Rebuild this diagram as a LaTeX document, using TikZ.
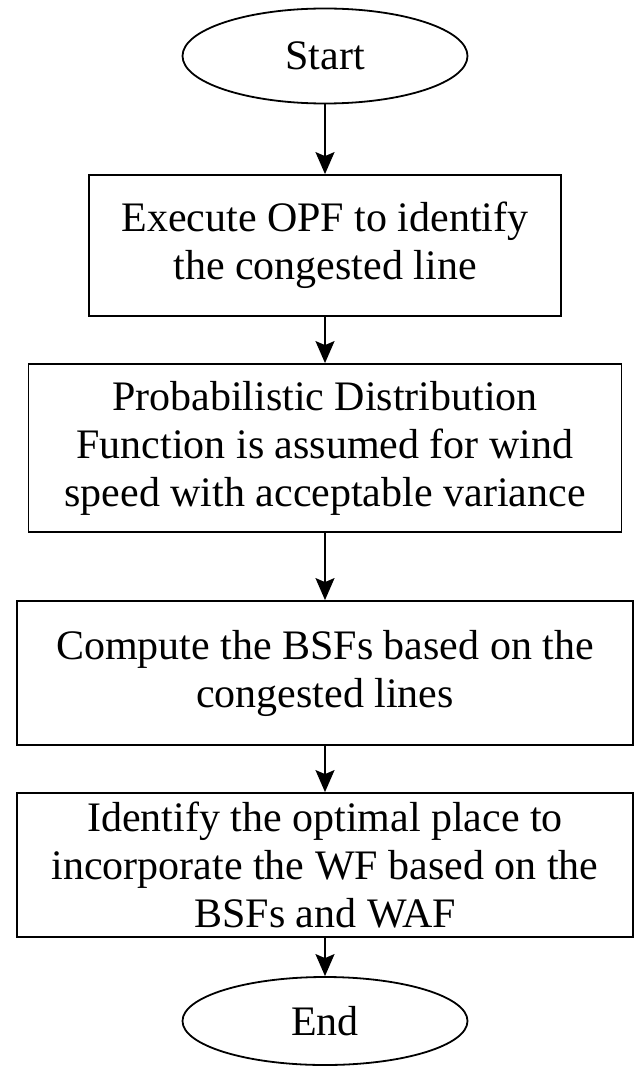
\documentclass[tikz,border=0pt]{standalone}
\usepackage{fontspec}
\setmainfont{Liberation Serif}
\usetikzlibrary{shapes.geometric, arrows.meta}

\begin{document}
\begin{tikzpicture}[x=1pt, y=-1pt, line width=1.8pt,
    every node/.style={font=\fontsize{42}{48}\selectfont},
    term/.style={draw, ellipse, minimum width=285pt, minimum height=95pt, inner sep=0pt},
    proc/.style={draw, rectangle, align=center, inner sep=0pt},
    flow/.style={-{Stealth[length=22pt, width=19pt, inset=4pt]}}]

    \useasboundingbox (0,0) rectangle (634,1067);

    \node[term] (start) at (325,56) {Start};
    \node[proc, minimum width=472pt, minimum height=141pt] (opf) at (325,245.5)
        {Execute OPF to identify\\the congested line};
    \node[proc, minimum width=593pt, minimum height=168pt] (pdf) at (325,448)
        {Probabilistic Distribution\\Function is assumed for wind\\speed with acceptable variance};
    \node[proc, minimum width=616pt, minimum height=144pt] (bsf) at (325,673)
        {Compute the BSFs based on the\\congested lines};
    \node[proc, minimum width=616pt, minimum height=144pt] (place) at (325,865)
        {Identify the optimal place to\\incorporate the WF based on the\\BSFs and WAF};
    \node[term, minimum height=88pt] (end) at (325,1021) {End};

    \draw[flow] (start) -- (opf);
    \draw[flow] (opf) -- (pdf);
    \draw[flow] (pdf) -- (bsf);
    \draw[flow] (bsf) -- (place);
    \draw[flow] (place) -- (end);
\end{tikzpicture}
\end{document}
